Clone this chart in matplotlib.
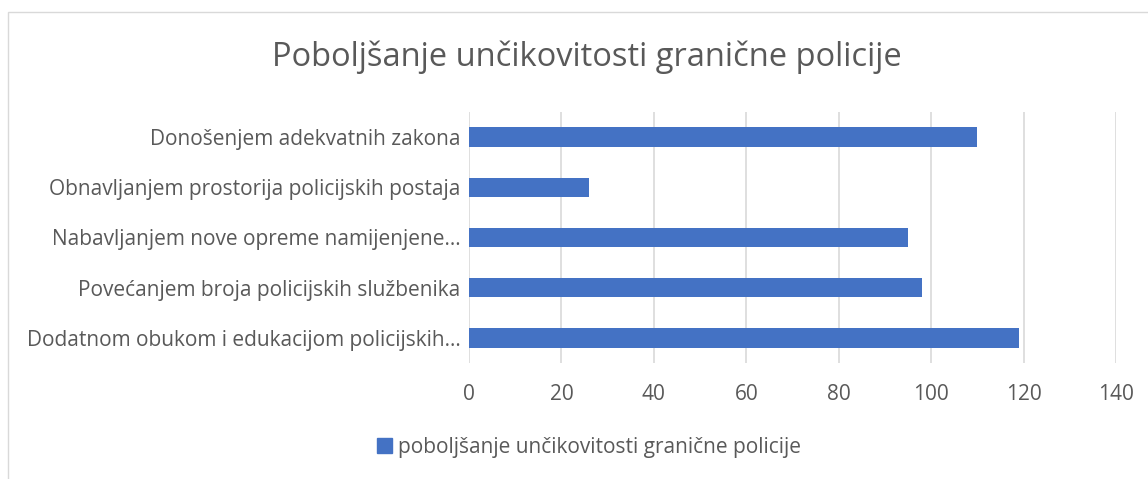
import matplotlib.pyplot as plt
from matplotlib.patches import Rectangle

categories = [
    "Dodatnom obukom i edukacijom policijskih…",
    "Povećanjem broja policijskih službenika",
    "Nabavljanjem nove opreme namijenjene…",
    "Obnavljanjem prostorija policijskih postaja",
    "Donošenjem adekvatnih zakona",
]
values = [119, 98, 95, 26, 110]
series_name = "poboljšanje unčikovitosti granične policije"
title = "Poboljšanje unčikovitosti granične policije"
xticks = [0, 20, 40, 60, 80, 100, 120, 140]

plt.rcParams['font.family'] = ['Open Sans', 'DejaVu Sans']
text_color = "#595959"
bar_color = "#4472c4"

W, H = 1148, 479
fig = plt.figure(figsize=(W / 100, H / 100), dpi=100)

# chart border (light gray, left and top visible)
fig.add_artist(Rectangle((8 / W, -0.1), 1.2, 1 - 12 / H + 0.1, transform=fig.transFigure,
                         fill=False, edgecolor="#d9d9d9", linewidth=1))

left, right, top, bottom = 469, 1116, 112, 363
ax = fig.add_axes([left / W, 1 - bottom / H, (right - left) / W, (bottom - top) / H])

ax.barh(range(len(categories)), values, height=0.385, color=bar_color, zorder=3)
ax.set_xlim(0, 140)
ax.set_ylim(-0.5, len(categories) - 0.5)
ax.set_xticks(xticks)
ax.set_yticks(range(len(categories)))
ax.set_yticklabels(categories)
ax.grid(axis="x", color="#d9d9d9", linewidth=1.2, zorder=0)
ax.tick_params(axis="both", length=0, colors=text_color, labelsize=15)
ax.tick_params(axis="x", pad=15)
ax.tick_params(axis="y", pad=6)
for s in ax.spines.values():
    s.set_visible(False)

fig.text(587 / W, 1 - 57 / H, title, ha="center", va="center", fontsize=23.5, color=text_color)

ax.legend([Rectangle((0, 0), 1, 1, color=bar_color)], [series_name],
          loc="center", bbox_to_anchor=(589 / W, 1 - 447 / H), bbox_transform=fig.transFigure,
          frameon=False, fontsize=15, labelcolor=text_color,
          handlelength=0.7, handleheight=0.7, handletextpad=0.3)

fig.savefig("out.png", dpi=100)
